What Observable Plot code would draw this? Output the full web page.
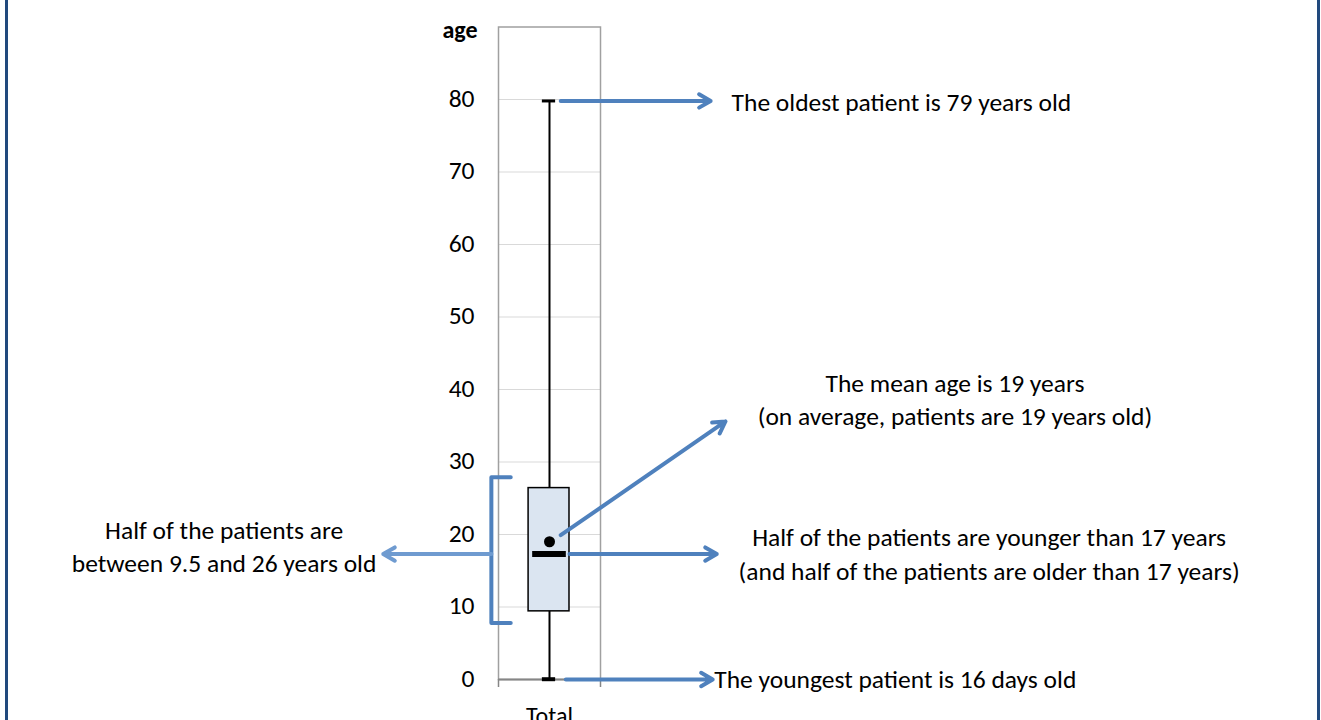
<!DOCTYPE html>
<html>
<head>
<meta charset="utf-8">
<script src="https://cdn.jsdelivr.net/npm/d3@7"></script>
<script src="https://cdn.jsdelivr.net/npm/@observablehq/plot@0.6"></script>
<style>
  html, body { margin: 0; padding: 0; background: #fff; }
  #wrap { position: relative; width: 1321px; height: 720px; overflow: hidden; }
  #wrap::before, #wrap::after { content: ""; position: absolute; top: 0; bottom: 0; width: 3px; background: #21497d; }
  #wrap::before { left: 5px; }
  #wrap::after { left: 1317px; }
  svg text { font-family: Carlito, Calibri, Lato, sans-serif; }
</style>
</head>
<body>
<div id="wrap"></div>
<script>
// ---- data ----
const categories = ["Total"];
const minAge = [0.04];
const q1Age = [9.4];
const medianAge = [17.3];
const q3Age = [26.4];
const maxAge = [79.8];
const meanAge = [19.0];
const yTicks = [0, 10, 20, 30, 40, 50, 60, 70, 80];

const noteOldest = ["The oldest patient is 79 years old"];
const noteMean = ["The mean age is 19 years", "(on average, patients are 19 years old)"];
const noteMedian = ["Half of the patients are younger than 17 years", "(and half of the patients are older than 17 years)"];
const noteIqr = ["Half of the patients are", "between 9.5 and 26 years old"];
const noteYoungest = ["The youngest patient is 16 days old"];

const rows = categories.map((c, i) => ({
  cat: c, min: minAge[i], q1: q1Age[i], median: medianAge[i], q3: q3Age[i], max: maxAge[i], mean: meanAge[i]
}));

// ---- layout (x in column units: the "Total" column spans 0..1) ----
const blue = "#4f81bd";
const arrows = [
  {x1: 0.61, y1: maxAge[0], x2: 2.08, y2: maxAge[0]},
  {x1: 0.61, y1: 19.9, x2: 2.225, y2: 35.6},
  {x1: 0.696, y1: medianAge[0], x2: 2.14, y2: medianAge[0]},
  {x1: 0.66, y1: 0, x2: 2.10, y2: 0}
];
const leftArrow = [{x1: -0.07, y1: medianAge[0], x2: -1.13, y2: medianAge[0]}];
const bracket = [
  {x: 0.12, y: 27.9}, {x: -0.07, y: 27.9}, {x: -0.07, y: 7.8}, {x: 0.12, y: 7.8}
];
const lh = 33.5 / 7.25; // line spacing in y units
const startTexts = [
  {x: 2.285, y: 79.6, t: noteOldest[0]},
  {x: 2.115, y: -0.1, t: noteYoungest[0]}
];
const middleTexts = [
  {x: 4.475, y: 38.5 + lh / 2, t: noteMean[0]},
  {x: 4.475, y: 38.5 - lh / 2, t: noteMean[1]},
  {x: 4.81, y: 17.2 + lh / 2, t: noteMedian[0]},
  {x: 4.81, y: 17.2 - lh / 2, t: noteMedian[1]},
  {x: -2.69, y: 18.2 + lh / 2, t: noteIqr[0]},
  {x: -2.69, y: 18.2 - lh / 2, t: noteIqr[1]}
];
const noteSize = 25.5;

const chart = Plot.plot({
  width: 1321,
  height: 720,
  marginLeft: 498,
  marginRight: 721,
  marginTop: 26.5,
  marginBottom: 41,
  style: {fontSize: "24px", background: "transparent", overflow: "visible"},
  x: {domain: [0, 1], axis: null},
  y: {domain: [0, 90], axis: null},
  marks: [
    Plot.ruleY(yTicks.filter(d => d > 0), {x1: 0, x2: 1, y: d => d, stroke: "#d9d9d9", strokeWidth: 1.2}),
    Plot.frame({stroke: "#a0a0a0", strokeWidth: 1.5}),
    Plot.ruleY([0], {x1: 0, x2: 1, stroke: "#868686", strokeWidth: 1.8}),
    Plot.ruleX([0, 1], {y1: 0, y2: -1.1, stroke: "#868686", strokeWidth: 1.5}),
    Plot.text(yTicks, {x: 0, y: d => d, text: d => String(d), dx: -24, dy: -1, textAnchor: "end", fill: "#000", fontSize: 25.5}),
    Plot.text(["age"], {x: 0, y: 89.6, text: d => d, dx: -21, textAnchor: "end", fontWeight: "bold", fontSize: 24}),
    Plot.text(categories, {x: 0.5, y: 0, text: d => d, dy: 37, fontSize: 24}),
    // box plot
    Plot.ruleX(rows, {x: 0.5, y1: "min", y2: "q1", stroke: "#000", strokeWidth: 2}),
    Plot.ruleX(rows, {x: 0.5, y1: "q3", y2: "max", stroke: "#000", strokeWidth: 2}),
    Plot.ruleY(rows, {y: "max", x1: 0.43, x2: 0.56, stroke: "#000", strokeWidth: 3}),
    Plot.ruleY(rows, {y: "min", x1: 0.43, x2: 0.56, stroke: "#000", strokeWidth: 4}),
    Plot.rect(rows, {x1: 0.295, x2: 0.696, y1: "q1", y2: "q3", fill: "#dbe5f1", stroke: "#000", strokeWidth: 1.5}),
    Plot.ruleY(rows, {y: "median", x1: 0.335, x2: 0.665, stroke: "#000", strokeWidth: 6}),
    Plot.dot(rows, {x: 0.5, y: "mean", r: 5.5, fill: "#000", stroke: "none"}),
    // annotations
    Plot.line(bracket, {x: "x", y: "y", stroke: blue, strokeWidth: 4, strokeLinejoin: "round", curve: "linear"}),
    Plot.arrow(leftArrow, {x1: "x1", y1: "y1", x2: "x2", y2: "y2", stroke: "#6f9bd0", strokeWidth: 4, headLength: 5}),
    Plot.arrow(arrows, {x1: "x1", y1: "y1", x2: "x2", y2: "y2", stroke: blue, strokeWidth: 4, headLength: 5}),
    Plot.text(startTexts, {x: "x", y: "y", text: "t", textAnchor: "start", fill: "#000", fontSize: noteSize}),
    Plot.text(middleTexts, {x: "x", y: "y", text: "t", textAnchor: "middle", fill: "#000", fontSize: noteSize})
  ]
});
document.getElementById("wrap").appendChild(chart);
</script>
</body>
</html>
